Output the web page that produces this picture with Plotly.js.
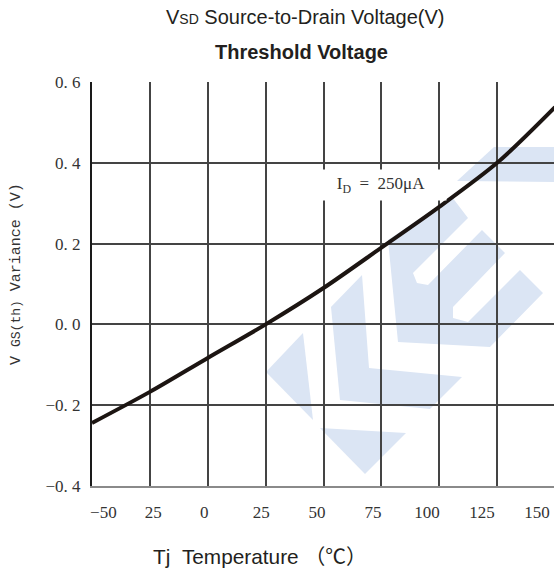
<!DOCTYPE html>
<html>
<head>
<meta charset="utf-8">
<script src="https://cdn.plot.ly/plotly-3.0.1.min.js"></script>
<style>
html,body{margin:0;padding:0;overflow:hidden;background:#fff;width:554px;height:576px;}
#chart{width:556px;height:576px;}
</style>
</head>
<body>
<div id="chart"></div>
<script>
// ---- data ----
const temps = [-50, -25, 0, 25, 50, 75, 100, 125, 150];
const vthVariance = [-0.244, -0.167, -0.083, 0.0, 0.09, 0.19, 0.291, 0.40, 0.538];
const gridTemps = [-50, -25, 0, 25, 50, 75, 100, 125, 150];
const xLabelPos = [-45.1, -23.5, -1.5, 23.1, 47.2, 71.4, 94.7, 118.5, 142.2];
const xLabelText = ['\u221250', '25', '0', '25', '50', '75', '100', '125', '150'];
const yTickVals = [-0.4, -0.2, 0.0, 0.2, 0.4, 0.6];
const yTickText = ['\u22120.\u00a04', '\u22120.\u00a02', '0.\u00a00', '0.\u00a02', '0.\u00a04', '0.\u00a06'];

// ---- layout geometry ----
const FW = 556, FH = 576;
const M = {l: 92, r: 1, t: 82, b: 90};
const PW = FW - M.l - M.r, PH = FH - M.t - M.b;
function P(x, y) { return ((x - M.l) / PW).toFixed(4) + ',' + ((FH - M.b - y) / PH).toFixed(4); }
function px(x) { return (x - M.l) / PW; }
function py(y) { return (FH - M.b - y) / PH; }
function poly(pts) { return 'M ' + pts.map(p => P(p[0], p[1])).join(' L ') + ' Z'; }

const wmColor = '#dbe5f4';
const watermark = [
  [[303,333],[266,372],[313,420]],
  [[320,428],[406,433],[365,474]],
  [[331,307],[362,275],[369,368],[462,377],[430,409],[340,400]],
  [[388,240],[452,197],[468,218],[413,273],[417,283],[428,285],[482,230],[505,253],[453,307],[453,318],[468,322],[520,270],[543,293],[490,347],[398,342]],
  [[457,181],[494,147],[560,147],[560,182]]
];
const shapes = watermark.map(pts => ({
  type: 'path', xref: 'paper', yref: 'paper', path: poly(pts),
  fillcolor: wmColor, line: {width: 0}, layer: 'below'
}));

const txtColor = '#231f20';
const annotations = [
  {xref:'paper', yref:'paper', x: px(305), y: py(17), xanchor:'center', yanchor:'middle', showarrow:false,
   text:'V<span style="font-size:14px">SD</span> Source-to-Drain Voltage(V)',
   font:{family:'Liberation Sans, Arial, sans-serif', size:20, color:txtColor}},
  {xref:'paper', yref:'paper', x: px(301.5), y: py(52), xanchor:'center', yanchor:'middle', showarrow:false,
   text:'<b>Threshold Voltage</b>',
   font:{family:'Liberation Sans, Arial, sans-serif', size:20, color:txtColor}},
  {xref:'paper', yref:'paper', x: px(260), y: py(556), xanchor:'center', yanchor:'middle', showarrow:false,
   text:'Tj\u00a0\u00a0Temperature\u00a0\uff08\u2103\uff09',
   font:{family:'Liberation Sans, Arial, "Noto Sans CJK SC", sans-serif', size:20.8, color:txtColor}},
  {xref:'paper', yref:'paper', x: px(16), y: py(274), xanchor:'center', yanchor:'middle', showarrow:false,
   textangle:-90, text:'V\u00a0<span style="font-size:13px">GS(th)</span>\u00a0Variance\u00a0(V)',
   font:{family:'Liberation Mono, monospace', size:15, color:'#333'}},
  {xref:'paper', yref:'paper', x: px(381), y: py(185), xanchor:'center', yanchor:'middle', showarrow:false,
   text:'I<sub>D</sub>\u00a0\u00a0=\u00a0\u00a0250\u03bcA', bgcolor:'#ffffff', width:130, height:30, borderpad:0,
   font:{family:'Liberation Serif, serif', size:17, color:'#333'}}
];

const traces = [
  {x: temps, y: vthVariance, type:'scatter', mode:'lines',
   line:{color:'#1c1512', width:4, shape:'spline', smoothing:0.8},
   hoverinfo:'skip', showlegend:false},
  {x: [], y: [], xaxis:'x2', yaxis:'y', type:'scatter', mode:'lines', showlegend:false, hoverinfo:'skip'}
];

const layout = {
  width: FW, height: FH,
  margin: M,
  paper_bgcolor:'#ffffff', plot_bgcolor:'rgba(0,0,0,0)',
  showlegend:false,
  xaxis: {
    range:[-50,150], tickmode:'array', tickvals: gridTemps, showticklabels:false, ticks:'',
    showgrid:true, gridcolor:'#444444', gridwidth:2, zeroline:false,
    showline:true, linecolor:'#8a8a8a', linewidth:2.2, fixedrange:true
  },
  xaxis2: {
    overlaying:'x', anchor:'y', side:'bottom', range:[-50,150],
    tickmode:'array', tickvals: xLabelPos, ticktext: xLabelText, ticks:'',
    showgrid:false, zeroline:false, showline:false, ticklabelstandoff: 14,
    tickfont:{family:'Liberation Serif, serif', size:17, color:'#333'}
  },
  yaxis: {
    range:[-0.4,0.6], tickmode:'array', tickvals: yTickVals, ticktext: yTickText, ticks:'',
    showgrid:true, gridcolor:'#444444', gridwidth:2, zeroline:false,
    showline:true, linecolor:'#1a1a1a', linewidth:2, ticklabelstandoff: 6,
    tickfont:{family:'Liberation Serif, serif', size:17, color:'#333'}, fixedrange:true
  },
  shapes: shapes,
  annotations: annotations
};

Plotly.newPlot('chart', traces, layout, {displayModeBar:false, staticPlot:true});
</script>
</body>
</html>
